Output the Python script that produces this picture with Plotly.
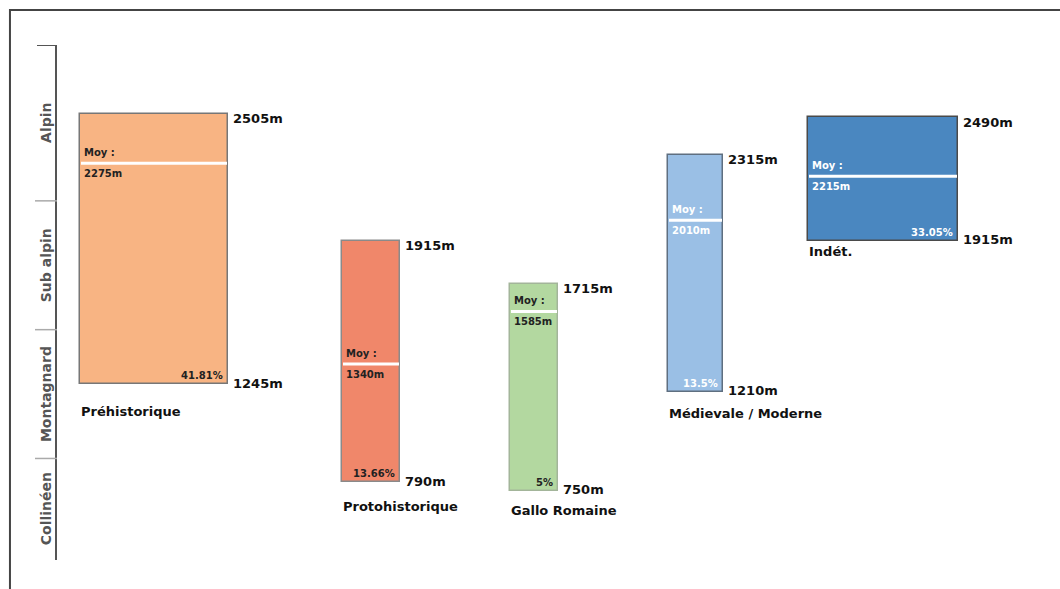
import plotly.graph_objects as go

# ---- data ----
periods = ["Préhistorique", "Protohistorique", "Gallo Romaine", "Médievale / Moderne", "Indét."]
alt_max = [2505, 1915, 1715, 2315, 2490]
alt_min = [1245, 790, 750, 1210, 1915]
alt_mean = [2275, 1340, 1585, 2010, 2215]
shares = ["41.81%", "13.66%", "5%", "13.5%", "33.05%"]

zone_names = ["Collinéen", "Montagnard", "Sub alpin", "Alpin"]
zone_bounds = [427, 900, 1500, 2100, 2826]

# ---- layout / style settings ----
x_center = [97, 314, 477, 638.5, 826]
bar_width = [148, 58, 48, 55, 150]
colors = ["#F8B483", "#F0876A", "#B3D8A0", "#9ABFE5", "#4A87C0"]
edge_colors = ["#777777", "#8a8a8a", "#a3b59a", "#5f6f80", "#4a4a4a"]
inner_text = ["#222222", "#222222", "#222222", "#ffffff", "#ffffff"]
name_gap = [27, 24, 20, 22, 11]
FONT = "DejaVu Sans"

heights = [t - b for t, b in zip(alt_max, alt_min)]
lefts = [c - w / 2 for c, w in zip(x_center, bar_width)]
rights = [c + w / 2 for c, w in zip(x_center, bar_width)]

fig = go.Figure()
fig.add_trace(go.Bar(
    x=x_center, y=heights, base=alt_min, width=bar_width,
    marker=dict(color=colors, line=dict(color=edge_colors, width=1.5)),
    hoverinfo="skip", showlegend=False,
))

# mean lines
mx, my = [], []
for l, r, m in zip(lefts, rights, alt_mean):
    mx += [l + 1, r - 1, None]
    my += [m, m, None]
fig.add_trace(go.Scatter(x=mx, y=my, mode="lines",
                         line=dict(color="white", width=3),
                         hoverinfo="skip", showlegend=False))

ann = []
for i, p in enumerate(periods):
    # top / bottom altitude labels
    ann.append(dict(x=rights[i] + 3, y=alt_max[i], text=f"<b>{alt_max[i]}m</b>",
                    xanchor="left", yanchor="middle", yshift=-5, showarrow=False,
                    font=dict(family=FONT, size=13, color="#111")))
    ann.append(dict(x=rights[i] + 3, y=alt_min[i], text=f"<b>{alt_min[i]}m</b>",
                    xanchor="left", yanchor="middle", yshift=1, showarrow=False,
                    font=dict(family=FONT, size=13, color="#111")))
    # period name
    ann.append(dict(x=lefts[i] - 1, y=alt_min[i], text=f"<b>{p}</b>",
                    xanchor="left", yanchor="middle", yshift=-name_gap[i], showarrow=False,
                    font=dict(family=FONT, size=13, color="#111")))
    # mean labels
    ann.append(dict(x=lefts[i] + 2, y=alt_mean[i], text="<b>Moy :</b>",
                    xanchor="left", yanchor="bottom", yshift=3, showarrow=False,
                    font=dict(family=FONT, size=10, color=inner_text[i])))
    ann.append(dict(x=lefts[i] + 2, y=alt_mean[i], text=f"<b>{alt_mean[i]}m</b>",
                    xanchor="left", yanchor="top", yshift=-3, showarrow=False,
                    font=dict(family=FONT, size=10, color=inner_text[i])))
    # share
    ann.append(dict(x=rights[i] - 3, y=alt_min[i], text=f"<b>{shares[i]}</b>",
                    xanchor="right", yanchor="bottom", yshift=1, showarrow=False,
                    font=dict(family=FONT, size=10, color=inner_text[i])))

# zone labels on the left scale
for k, zn in enumerate(zone_names):
    ann.append(dict(xref="paper", x=-11 / 1003, y=(zone_bounds[k] + zone_bounds[k + 1]) / 2,
                    text=f"<b>{zn}</b>", textangle=-90, xanchor="center", yanchor="middle",
                    showarrow=False, font=dict(family=FONT, size=14, color="#555")))

shapes = []
# ticks on the left scale
for k, v in enumerate(zone_bounds[1:]):
    top = (k == len(zone_bounds) - 2)
    shapes.append(dict(type="line", xref="paper", yref="y",
                       x0=-20 / 1003 if top else -22 / 1003, x1=0, y0=v, y1=v,
                       line=dict(color="#555" if top else "#aaa", width=2 if top else 1.5)))
# frame (top + left border)
shapes.append(dict(type="path", xref="paper", yref="paper",
                   path="M -0.0469 -0.07 L -0.0469 1.068 L 1.01 1.068",
                   line=dict(color="#444", width=2)))

fig.update_layout(
    width=1060, height=589, autosize=False,
    margin=dict(l=57, r=0, t=45, b=29),
    paper_bgcolor="white", plot_bgcolor="white",
    xaxis=dict(range=[0, 1003], visible=False, fixedrange=True),
    yaxis=dict(range=[zone_bounds[0], zone_bounds[-1]], showline=True, linecolor="#555",
               linewidth=2, showticklabels=False, ticks="", showgrid=False,
               zeroline=False, fixedrange=True),
    annotations=ann, shapes=shapes, bargap=0,
    font=dict(family=FONT),
)

fig.write_html("out.html", config={"displayModeBar": False},
               post_script="document.body.style.margin='0px';document.body.style.overflow='hidden';")
